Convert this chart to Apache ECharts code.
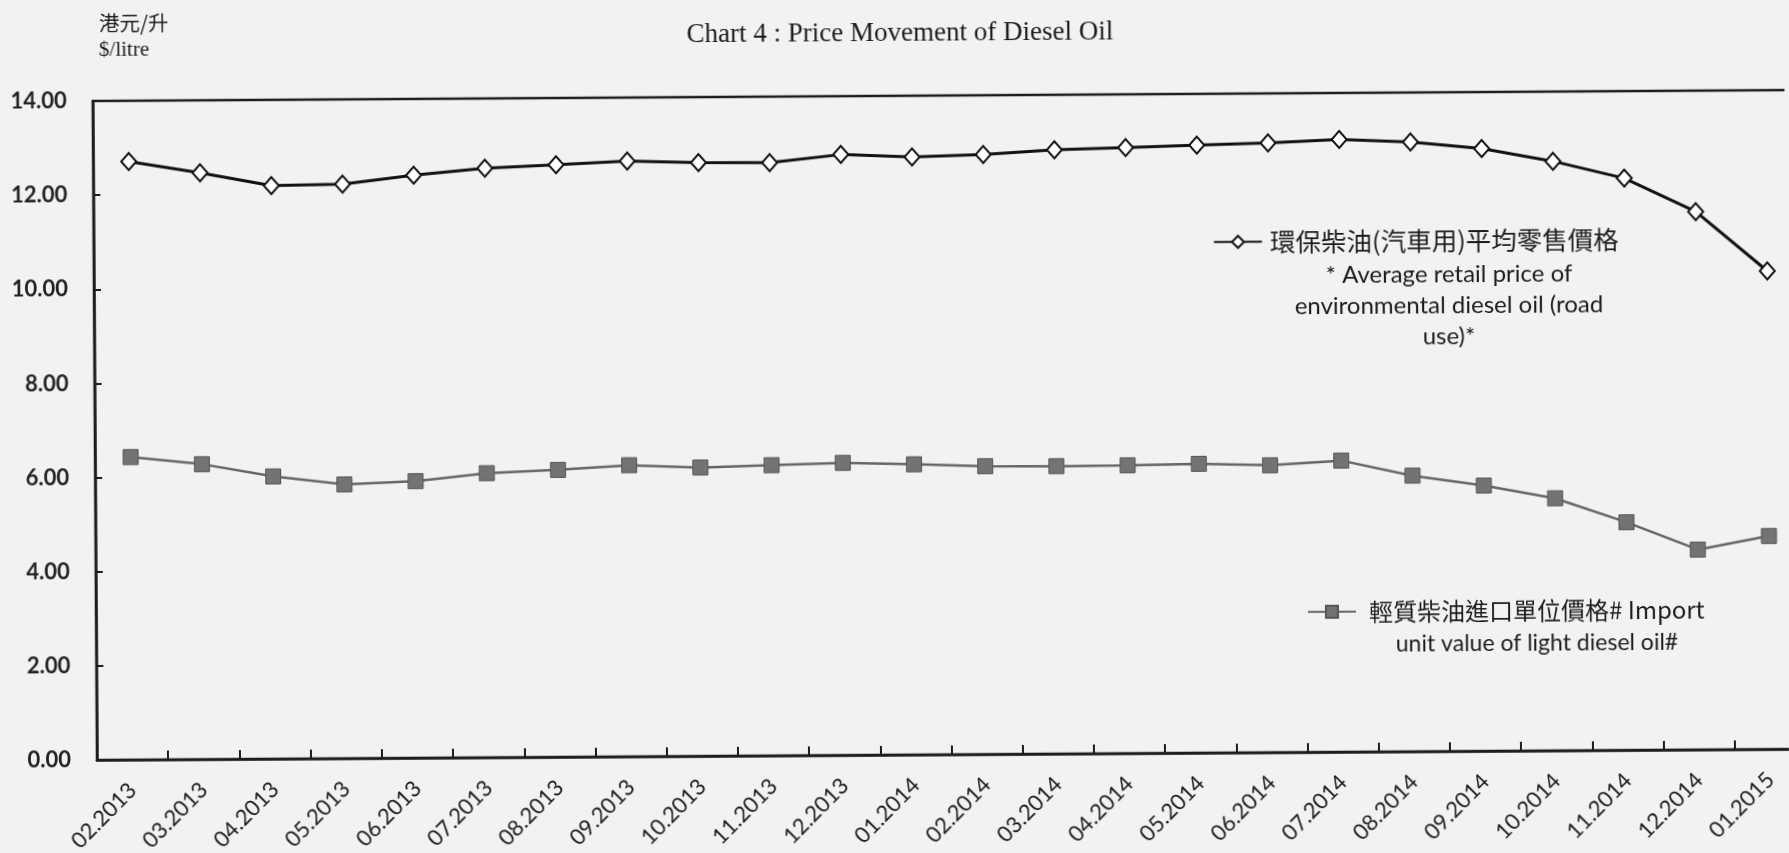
<!DOCTYPE html>
<html>
<head>
<meta charset="utf-8">
<script src="https://cdn.jsdelivr.net/npm/echarts/dist/echarts.min.js"></script>
<style>
html, body { margin: 0; padding: 0; background: #f2f2f2; overflow: hidden; }
#chart { width: 1789px; height: 853px; transform-origin: 97px 760px; transform: rotate(-0.37deg); }
</style>
</head>
<body>
<div id="chart"></div>
<script>
// ---- data ----
const categories = ['02.2013','03.2013','04.2013','05.2013','06.2013','07.2013','08.2013','09.2013','10.2013','11.2013','12.2013',
  '01.2014','02.2014','03.2014','04.2014','05.2014','06.2014','07.2014','08.2014','09.2014','10.2014','11.2014','12.2014','01.2015'];
const retailPrice = [12.71, 12.46, 12.18, 12.20, 12.38, 12.52, 12.58, 12.65, 12.61, 12.60, 12.76,
  12.70, 12.74, 12.83, 12.87, 12.91, 12.95, 13.01, 12.95, 12.80, 12.52, 12.15, 11.43, 10.16];
const importValue = [6.43, 6.27, 6.00, 5.82, 5.88, 6.04, 6.10, 6.19, 6.13, 6.17, 6.21,
  6.17, 6.12, 6.11, 6.12, 6.14, 6.10, 6.19, 5.86, 5.64, 5.36, 4.84, 4.25, 4.53];
const yAxisRange = { min: 0, max: 14, interval: 2 };

const NAME_RETAIL = '環保柴油(汽車用)平均零售價格';
const NAME_IMPORT = '輕質柴油進口單位價格# Import';
const retailNote = ['* Average retail price of', 'environmental diesel oil (road', 'use)*'];
const importNote = ['unit value of light diesel oil#'];
const titleText = 'Chart 4 : Price Movement of Diesel Oil';
const unitLines = ['港元/升', '$/litre'];

// ---- layout helpers (the scan is slightly tilted; the page is rotated the same way) ----
const OX = 97, OY = 760, TILT = 0.37 * Math.PI / 180;
function pre(x, y) {
  const dx = x - OX, dy = y - OY;
  return [OX + dx * Math.cos(TILT) - dy * Math.sin(TILT), OY + dx * Math.sin(TILT) + dy * Math.cos(TILT)];
}
const INK = '#1c1c1c';
const CJK = "'Noto Sans CJK TC', 'Noto Sans CJK SC', sans-serif";
const LAT = "Lato, 'Noto Sans', sans-serif";

const graphics = [];
function addText(x, y, text, font, align) {
  const p = pre(x, y);
  graphics.push({ type: 'text', x: p[0], y: p[1], silent: true,
    style: { text: text, font: font, fill: INK, align: align || 'center', verticalAlign: 'middle' } });
}
addText(900, 34, titleText, "27px 'Liberation Serif', 'Times New Roman', serif");
addText(99, 23, unitLines[0], "20.5px " + CJK, 'left');
addText(99, 50, unitLines[1], "21px 'Liberation Serif', serif", 'left');
const retailNoteY = [275, 306, 337];
retailNote.forEach((t, i) => addText(1449, retailNoteY[i], t, "24px " + LAT));
addText(1537, 643, importNote[0], "23px " + LAT);

const leg1 = pre(1213, 242), leg2 = pre(1307, 612);
const legendCommon = {
  orient: 'horizontal', padding: 0, itemWidth: 48, itemHeight: 15, itemGap: 0, selectedMode: false
};

const chart = echarts.init(document.getElementById('chart'), null, { renderer: 'canvas' });
chart.setOption({
  backgroundColor: '#f2f2f2',
  animation: false,
  grid: { left: 97, top: 101, right: -17, bottom: 93, show: true, borderColor: INK, borderWidth: 2.5,
          containLabel: false, outerBoundsMode: 'none' },
  legend: [
    Object.assign({}, legendCommon, { data: [NAME_RETAIL], left: leg1[0], top: leg1[1] - 16,
      textStyle: { fontFamily: CJK, fontSize: 25.5, color: INK, lineHeight: 32, padding: [0, 0, 0, 3] } }),
    Object.assign({}, legendCommon, { data: [NAME_IMPORT], left: leg2[0], top: leg2[1] - 16,
      textStyle: { fontFamily: CJK, fontSize: 24, color: INK, lineHeight: 32, padding: [0, 0, 0, 8] } })
  ],
  xAxis: {
    type: 'category', data: categories, boundaryGap: true,
    axisLine: { lineStyle: { color: INK, width: 2.5 } },
    axisTick: { show: true, inside: true, length: 9, lineStyle: { color: INK, width: 2 } },
    axisLabel: { interval: 0, rotate: 45, margin: 27, fontFamily: LAT, fontSize: 22, color: INK },
    splitLine: { show: false }
  },
  yAxis: {
    type: 'value', min: yAxisRange.min, max: yAxisRange.max, interval: yAxisRange.interval,
    axisLine: { show: true, lineStyle: { color: INK, width: 2.5 } },
    axisTick: { show: true, inside: true, length: 7, lineStyle: { color: INK, width: 2 } },
    axisLabel: { formatter: v => v.toFixed(2), margin: 26, fontFamily: LAT, fontWeight: 'bold', fontSize: 22, color: '#222' },
    splitLine: { show: false }
  },
  series: [
    { name: NAME_RETAIL, type: 'line', data: retailPrice, symbol: 'diamond', symbolSize: [15, 17],
      lineStyle: { color: '#111', width: 3 },
      itemStyle: { color: '#ffffff', borderColor: '#111', borderWidth: 2 }, z: 3 },
    { name: NAME_IMPORT, type: 'line', data: importValue, symbol: 'rect', symbolSize: 15,
      lineStyle: { color: '#666666', width: 2.5 },
      itemStyle: { color: '#737373', borderColor: '#555', borderWidth: 1 }, z: 3 }
  ],
  graphic: graphics
});
</script>
</body>
</html>
